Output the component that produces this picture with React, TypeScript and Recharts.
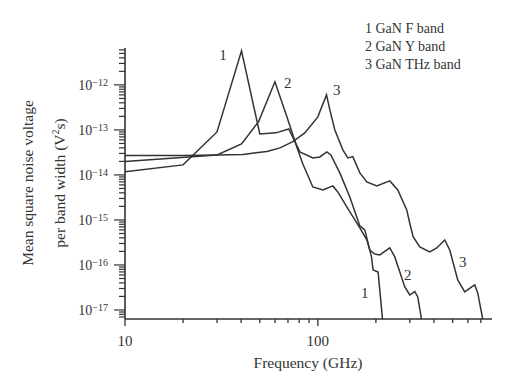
import { LineChart, Line, XAxis, YAxis, ReferenceDot } from "recharts";

// Frequency (GHz) and mean square noise voltage per band width (V^2 s)
const band1Freq = [10, 20, 30, 40.2, 50, 60.6, 70.7, 80.7, 94.2, 102.4, 111.3, 116.8, 130, 146.5, 165.1, 175.2, 189.7, 193.4, 205.3, 216.4];
const band1Noise = [1.17e-14, 1.67e-14, 9.0e-14, 5.7e-12, 8.15e-14, 8.6e-14, 1.05e-13, 3.25e-14, 2.39e-14, 2.51e-14, 3.25e-14, 2.78e-14, 1.11e-14, 3.25e-15, 7.36e-16, 6.0e-16, 1.51e-16, 7.74e-17, 6.99e-17, 6.3e-18];

const band2Freq = [10, 30, 40.2, 49.3, 59.9, 69.1, 77.8, 83.6, 94.2, 106.2, 119.6, 126.9, 141.3, 165.1, 179.4, 185.9, 197.4, 209.5, 236.1, 250.6, 282.4, 299.7, 318.2, 329.8, 344.6];
const band2Noise = [1.98e-14, 2.78e-14, 4.89e-14, 1.53e-13, 1.17e-12, 1.95e-13, 4.19e-14, 1.75e-14, 5.41e-15, 4.64e-15, 5.7e-15, 4.19e-15, 1.95e-15, 6.64e-16, 3.6e-16, 2.15e-16, 1.75e-16, 1.67e-16, 2.39e-16, 1.51e-16, 3.25e-17, 2.15e-17, 2.55e-17, 1.95e-17, 6.3e-18];

const band3Freq = [10, 20, 30, 40.9, 54.4, 63.6, 74.2, 85.6, 100, 110.9, 115.4, 122.5, 134.8, 143, 151.8, 165.1, 179.4, 202.2, 236.1, 259.8, 289.1, 299.7, 311.8, 337.7, 380.4, 413.6, 455, 483, 531.4, 577.9, 628.2, 651, 674.5, 716];
const band3Noise = [2.69e-14, 2.71e-14, 2.78e-14, 2.86e-14, 3.3e-14, 3.98e-14, 5.49e-14, 8.58e-14, 1.95e-13, 6.0e-13, 2.78e-13, 1e-13, 3.6e-14, 2.39e-14, 2.55e-14, 1.11e-14, 6.99e-15, 5.7e-15, 7.36e-15, 4.64e-15, 1.67e-15, 8.45e-16, 4.26e-16, 2.51e-16, 1.95e-16, 2.39e-16, 3.6e-16, 2.15e-16, 4.64e-17, 2.51e-17, 3.25e-17, 3.6e-17, 2.39e-17, 6.3e-18];

// curve number labels
const labelText = ["1", "2", "3", "1", "2", "3"];
const labelFreq = [32.2, 69.9, 125.4, 175.2, 292.6, 564];
const labelNoise = [4.64e-12, 1.11e-12, 7.74e-13, 2.39e-17, 6.0e-17, 1.17e-16];

const legendLines = ["1 GaN F band", "2 GaN Y band", "3 GaN THz band"];

const xTicks = [10, 20, 30, 40, 50, 60, 70, 80, 90, 100, 200, 300, 400, 500, 600, 700];
const xLabeled = [10, 100];
const yExponents = [-18, -17, -16, -15, -14, -13, -12];
const yMantissas = [1, 2, 3, 4, 5, 6, 7, 8, 9];
const yLabeled = [-17, -16, -15, -14, -13, -12];

const xDomain = [10, 800];
const yDomain = [6.3e-18, 6.6e-12];

const yTicks: number[] = [];
yExponents.forEach((e) =>
  yMantissas.forEach((m) => {
    const v = m * Math.pow(10, e);
    if (v >= yDomain[0] && v <= yDomain[1]) yTicks.push(v);
  })
);

const toRows = (fs: number[], vs: number[]) => fs.map((f, i) => ({ f, v: vs[i] }));
const band1 = toRows(band1Freq, band1Noise);
const band2 = toRows(band2Freq, band2Noise);
const band3 = toRows(band3Freq, band3Noise);

const ink = "#333";
const font = '"Liberation Serif", "Times New Roman", serif';

const XTick = (props: any) => {
  const { x, y, payload } = props;
  const major = xLabeled.includes(payload.value);
  return (
    <g>
      <line x1={x} x2={x} y1={y} y2={y + (major ? 7 : 4)} stroke={ink} strokeWidth={1.3} />
      {major && (
        <text x={x} y={y + 27} textAnchor="middle" fill={ink} fontSize={15} fontFamily={font}>
          {payload.value}
        </text>
      )}
    </g>
  );
};

const YTick = (props: any) => {
  const { x, y, payload } = props;
  const exp = Math.round(Math.log10(payload.value));
  const major = yLabeled.includes(exp) && Math.abs(payload.value / Math.pow(10, exp) - 1) < 1e-6;
  return (
    <g>
      <line x1={x - (major ? 11 : 6)} x2={x} y1={y} y2={y} stroke={ink} strokeWidth={1.2} />
      {major && (
        <text x={x - 17} y={y + 5} textAnchor="end" fill={ink} fontSize={14} fontFamily={font}>
          <tspan>10</tspan>
          <tspan dy={-4} fontSize={10}>{"\u2212" + Math.abs(exp)}</tspan>
        </text>
      )}
    </g>
  );
};

export default function App() {
  return (
    <div style={{ position: "absolute", left: 0, top: 0, width: 522, height: 381, background: "#fff", fontFamily: font, color: ink }}>
      <LineChart width={522} height={381} data={band1} margin={{ top: 48, right: 30, bottom: 32, left: 65 }}>
        <XAxis
          type="number"
          dataKey="f"
          scale="log"
          domain={xDomain}
          ticks={xTicks}
          interval={0}
          allowDataOverflow
          height={30}
          tickSize={0}
          tickMargin={0}
          tickLine={false}
          tick={(p: any) => <XTick {...p} />}
          axisLine={{ stroke: ink, strokeWidth: 1.6 }}
        />
        <YAxis
          type="number"
          scale="log"
          domain={yDomain}
          ticks={yTicks}
          interval={0}
          allowDataOverflow
          width={60}
          tickSize={0}
          tickMargin={0}
          tickLine={false}
          tick={(p: any) => <YTick {...p} />}
          axisLine={{ stroke: ink, strokeWidth: 1.6 }}
        />
        <Line data={band1} dataKey="v" type="linear" stroke={ink} strokeWidth={1.5} dot={false} isAnimationActive={false} />
        <Line data={band2} dataKey="v" type="linear" stroke={ink} strokeWidth={1.5} dot={false} isAnimationActive={false} />
        <Line data={band3} dataKey="v" type="linear" stroke={ink} strokeWidth={1.5} dot={false} isAnimationActive={false} />
        {labelText.map((t, i) => (
          <ReferenceDot
            key={i}
            x={labelFreq[i]}
            y={labelNoise[i]}
            r={0}
            stroke="none"
            fill="none"
            label={{ value: t, position: "center", fill: ink, fontSize: 15, fontFamily: font }}
          />
        ))}
      </LineChart>
      <div style={{ position: "absolute", left: 365, top: 20, fontSize: 14, lineHeight: "18px", whiteSpace: "nowrap" }}>
        {legendLines.map((l) => (
          <div key={l}>{l}</div>
        ))}
      </div>
      <div style={{ position: "absolute", left: 208, top: 354, width: 200, textAlign: "center", fontSize: 15.5, lineHeight: "18px" }}>
        Frequency (GHz)
      </div>
      <div style={{ position: "absolute", left: -92, top: 174, width: 240, textAlign: "center", fontSize: 15.5, lineHeight: "18px", transform: "rotate(-90deg)" }}>
        Mean square noise voltage
      </div>
      <div style={{ position: "absolute", left: -60, top: 174, width: 240, textAlign: "center", fontSize: 15.5, lineHeight: "18px", transform: "rotate(-90deg)" }}>
        per band width (V<sup style={{ fontSize: 10, lineHeight: 0 }}>2</sup>s)
      </div>
    </div>
  );
}
